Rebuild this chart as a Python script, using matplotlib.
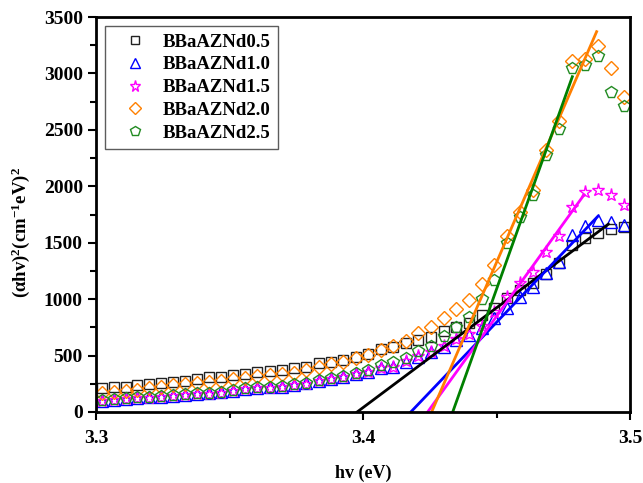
import matplotlib
matplotlib.use("Agg")
import matplotlib.pyplot as plt

plt.rcParams['font.family'] = ['Liberation Serif', 'DejaVu Serif']
plt.rcParams['font.weight'] = 'bold'
plt.rcParams['mathtext.fontset'] = 'custom'
plt.rcParams['mathtext.rm'] = 'Liberation Serif:bold'
plt.rcParams['mathtext.it'] = 'Liberation Serif:bold'
plt.rcParams['mathtext.default'] = 'rm'

# photon energy (eV) for each measured point
energy = [3.3023, 3.3067, 3.3111, 3.3155, 3.3199, 3.3244, 3.3289, 3.3333, 3.3378,
          3.3423, 3.3468, 3.3514, 3.3559, 3.3604, 3.3650, 3.3696, 3.3741, 3.3787,
          3.3834, 3.3880, 3.3926, 3.3973, 3.4019, 3.4066, 3.4113, 3.4160, 3.4207,
          3.4254, 3.4302, 3.4349, 3.4397, 3.4444, 3.4492, 3.4540, 3.4589, 3.4637,
          3.4685, 3.4734, 3.4783, 3.4831, 3.4880, 3.4930, 3.4979]

nd05 = [210, 219, 224, 237, 248, 260, 268, 277, 290, 307, 313, 325, 337, 354, 361,
        372, 387, 401, 431, 446, 461, 485, 510, 556, 579, 608, 638, 667, 720, 750,
        791, 860, 919, 1007, 1080, 1140, 1220, 1317, 1480, 1539, 1583, 1619, 1642]
nd10 = [100, 109, 115, 124, 130, 136, 145, 151, 160, 165, 174, 189, 204, 213, 218,
        224, 242, 254, 278, 293, 313, 340, 355, 387, 398, 446, 490, 529, 579, 638,
        682, 741, 830, 919, 1022, 1110, 1234, 1332, 1568, 1648, 1701, 1681, 1657]
nd15 = [98, 107, 113, 122, 128, 134, 143, 149, 158, 163, 172, 187, 202, 211, 216,
        222, 240, 252, 276, 291, 311, 338, 358, 390, 400, 450, 495, 535, 585, 645,
        690, 760, 890, 1022, 1140, 1243, 1415, 1559, 1814, 1946, 1967, 1923, 1834]
nd20 = [166, 180, 189, 195, 215, 224, 239, 245, 254, 268, 277, 290, 304, 319, 328,
        337, 348, 372, 401, 425, 446, 481, 505, 552, 585, 625, 700, 750, 835, 912,
        992, 1130, 1300, 1560, 1775, 1967, 2325, 2581, 3113, 3125, 3245, 3051, 2794]
nd25 = [106, 115, 121, 130, 136, 142, 151, 157, 166, 171, 180, 195, 210, 219, 224,
        230, 248, 260, 284, 299, 319, 348, 370, 416, 446, 480, 540, 585, 673, 752,
        842, 1005, 1166, 1494, 1731, 1923, 2275, 2505, 3045, 3075, 3155, 2838, 2711]

labels = ['BBaAZNd0.5', 'BBaAZNd1.0', 'BBaAZNd1.5', 'BBaAZNd2.0', 'BBaAZNd2.5']
series = [nd05, nd10, nd15, nd20, nd25]
markers = ['s', '^', '*', 'D', 'p']
msizes = [7, 8.5, 9.5, 7, 8.5]
mcolors = ['#222222', '#0000ff', '#ff00ff', '#ff8000', '#228b22']

# linear Tauc fits: (x at y=0, x end, y end)
fit_x0 = [3.3978, 3.4179, 3.4242, 3.4257, 3.4336]
fit_x1 = [3.4919, 3.4878, 3.4828, 3.4875, 3.4784]
fit_y1 = [1664, 1730, 1925, 3370, 2971]
fit_colors = ['black', '#0000ff', '#ff00ff', '#ff7f00', '#008000']

fig = plt.figure(figsize=(6.43, 4.83), dpi=100)
ax = fig.add_axes([96 / 643, 71 / 483, 534 / 643, 395 / 483])

for y, m, ms, c, lab in zip(series, markers, msizes, mcolors, labels):
    ax.plot(energy, y, linestyle='none', marker=m, markersize=ms,
            markerfacecolor='none', markeredgecolor=c, markeredgewidth=1.0,
            label=lab, clip_on=True)

for x0, x1, y1, c in zip(fit_x0, fit_x1, fit_y1, fit_colors):
    ax.plot([x0, x1], [0, y1], color=c, linewidth=2)

ax.set_xlim(3.3, 3.5)
ax.set_ylim(0, 3500)
ax.set_xticks([3.3, 3.4, 3.5])
ax.set_xticks([3.35, 3.45], minor=True)
ax.set_yticks(range(0, 3501, 500))
ax.set_yticks(range(250, 3500, 500), minor=True)
ax.xaxis.set_major_formatter(plt.FuncFormatter(lambda v, p: f'{v:.1f}'))

ax.tick_params(which='major', direction='out', length=6, width=1.5, labelsize=14)
ax.tick_params(axis='x', which='major', pad=7)
ax.tick_params(which='minor', direction='out', length=4, width=1.5)
for s in ax.spines.values():
    s.set_linewidth(2)

ax.set_xlabel('hv (eV)', fontsize=13, fontweight='bold', labelpad=13)
ax.set_ylabel(r'($\alpha$hv)$^{2}$(cm$^{-1}$eV)$^{2}$', fontsize=13.5,
              fontweight='bold')
ax.yaxis.set_label_coords(-0.12, 0.455)

leg = ax.legend(loc='upper left', bbox_to_anchor=(0.017, 0.977), borderaxespad=0,
                fontsize=13.5, frameon=True, fancybox=False, edgecolor='#333333',
                handletextpad=0.25, borderpad=0.4, labelspacing=0.3,
                handlelength=2.4, markerscale=0.85)
leg.get_frame().set_linewidth(1.0)

fig.savefig('out.png', dpi=100)
